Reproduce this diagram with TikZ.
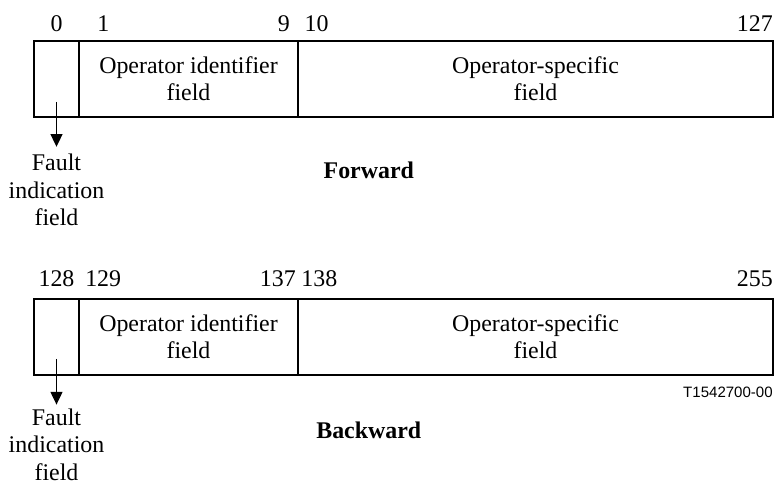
\documentclass[tikz,border=0pt]{standalone}
\usepackage{fontspec}
\setmainfont{Liberation Serif}
\setsansfont{Liberation Sans}
\usetikzlibrary{positioning, arrows.meta}

\begin{document}
\begin{tikzpicture}[
        fld/.style={rectangle, draw=black, line width=0.75pt, minimum height=1.9cm,
            inner sep=0pt, outer sep=0pt, align=center, anchor=north west,
            font=\fontsize{17}{19.5}\selectfont},
        num/.style={inner sep=0pt, font=\fontsize{17}{19.5}\selectfont},
        lab/.style={inner sep=0pt, align=center, anchor=north, font=\fontsize{17}{19.5}\selectfont},
        ttl/.style={inner sep=0pt, font=\fontsize{17}{19.5}\selectfont\bfseries},
        ptr/.style={line width=0.75pt, shorten >=0.18cm, -{Triangle[width=8.5pt,length=9pt]}}
    ]
    \useasboundingbox (0,0) rectangle (19.5,12.05);
    % forward
    \node[fld, minimum width=1.125cm] (ffault) at (0.85,11.025) {};
    \node[fld, minimum width=5.475cm] (fopid) at (ffault.north east) {Operator identifier\\field};
    \node[fld, minimum width=11.875cm] (fopsp) at (fopid.north east) {Operator-specific\\field};
    \node[num, above=0.23cm of ffault.north] (f0) {0};
    \node[num, above right=0.23cm and 0.45cm of ffault.north east] (f1) {1};
    \node[num, above left=0.23cm and 0.2cm of fopid.north east] (f9) {9};
    \node[num, above right=0.23cm and 0.16cm of fopid.north east] (f10) {10};
    \node[num, above left=0.23cm and 0cm of fopsp.north east] (f127) {127};
    \coordinate (ftail) at ([yshift=0.375cm]ffault.south);
    \node[lab] (fflab) at ([yshift=-0.925cm]ffault.south) {Fault\\indication\\field};
    \draw[ptr] (ftail) -- (fflab);
    \node[ttl] (fttl) at (9.22,7.8) {Forward};
    % backward
    \node[fld, minimum width=1.125cm] (bfault) at (0.85,4.575) {};
    \node[fld, minimum width=5.475cm] (bopid) at (bfault.north east) {Operator identifier\\field};
    \node[fld, minimum width=11.875cm] (bopsp) at (bopid.north east) {Operator-specific\\field};
    \node[num, above=0.31cm of bfault.north] (b128) {128};
    \node[num, above right=0.31cm and 0.15cm of bfault.north east] (b129) {129};
    \node[num, above left=0.31cm and 0.05cm of bopid.north east] (b137) {137};
    \node[num, above right=0.31cm and 0.08cm of bopid.north east] (b138) {138};
    \node[num, above left=0.31cm and 0cm of bopsp.north east] (b255) {255};
    \coordinate (btail) at ([yshift=0.4cm]bfault.south);
    \node[lab] (bflab) at ([yshift=-0.84cm]bfault.south) {Fault\\indication\\field};
    \draw[ptr, shorten >=0.1cm] (btail) -- (bflab);
    \node[ttl] (bttl) at (9.22,1.3) {Backward};
    \node[inner sep=0pt, anchor=east, font=\sffamily\fontsize{10.7}{12}\selectfont] (bcode)
        at ([yshift=-0.4375cm]bopsp.south east) {T1542700-00};
\end{tikzpicture}
\end{document}
